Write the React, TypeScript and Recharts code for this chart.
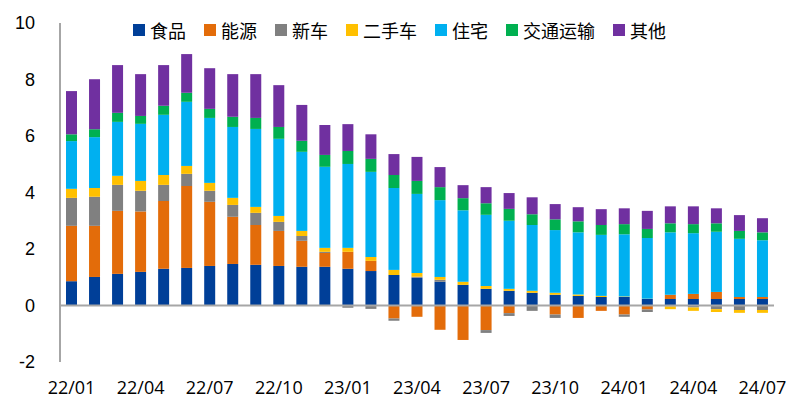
import React from 'react';
import {
  BarChart,
  Bar,
  XAxis,
  YAxis,
  Legend,
  ReferenceLine,
} from 'recharts';

const months = [
  '22/01', '22/02', '22/03', '22/04', '22/05', '22/06', '22/07', '22/08', '22/09', '22/10', '22/11', '22/12',
  '23/01', '23/02', '23/03', '23/04', '23/05', '23/06', '23/07', '23/08', '23/09', '23/10', '23/11', '23/12',
  '24/01', '24/02', '24/03', '24/04', '24/05', '24/06', '24/07',
];

const food = [0.86, 1.01, 1.12, 1.19, 1.3, 1.33, 1.4, 1.47, 1.44, 1.4, 1.37, 1.37, 1.3, 1.22, 1.08, 0.98, 0.84, 0.73, 0.59, 0.52, 0.45, 0.38, 0.34, 0.3, 0.3, 0.23, 0.23, 0.23, 0.23, 0.23, 0.23];
const energy = [1.96, 1.81, 2.23, 2.14, 2.4, 2.9, 2.27, 1.67, 1.41, 1.24, 0.92, 0.49, 0.6, 0.36, -0.46, -0.4, -0.86, -1.22, -0.87, -0.27, 0, -0.32, -0.44, -0.19, -0.32, -0.14, 0.15, 0.18, 0.25, 0.07, 0.07];
const newCar = [0.99, 1.03, 0.92, 0.73, 0.57, 0.43, 0.39, 0.42, 0.43, 0.32, 0.17, 0.04, -0.08, -0.12, -0.08, 0.04, 0.07, 0, -0.1, -0.1, -0.19, -0.12, 0, 0, -0.08, -0.09, -0.03, -0.07, -0.13, -0.16, -0.16];
const usedCar = [0.32, 0.31, 0.32, 0.35, 0.35, 0.28, 0.28, 0.25, 0.21, 0.21, 0.18, 0.14, 0.14, 0.14, 0.18, 0.13, 0.1, 0.11, 0.1, 0.07, 0.07, 0.07, 0.05, 0.04, 0.02, 0.01, -0.1, -0.12, -0.1, -0.1, -0.1];
const housing = [1.69, 1.8, 1.91, 2.02, 2.13, 2.27, 2.3, 2.51, 2.76, 2.73, 2.8, 2.87, 2.97, 3.01, 2.9, 2.8, 2.72, 2.53, 2.52, 2.41, 2.33, 2.22, 2.2, 2.16, 2.2, 2.15, 2.21, 2.15, 2.13, 2.06, 2.01];
const transport = [0.24, 0.28, 0.32, 0.28, 0.32, 0.32, 0.32, 0.36, 0.39, 0.42, 0.39, 0.42, 0.46, 0.46, 0.46, 0.46, 0.46, 0.43, 0.41, 0.42, 0.38, 0.38, 0.39, 0.35, 0.36, 0.32, 0.32, 0.32, 0.3, 0.28, 0.28];
const other = [1.53, 1.77, 1.69, 1.48, 1.44, 1.37, 1.44, 1.51, 1.55, 1.48, 1.27, 1.06, 0.95, 0.87, 0.74, 0.85, 0.71, 0.46, 0.57, 0.56, 0.6, 0.54, 0.5, 0.56, 0.56, 0.64, 0.6, 0.63, 0.53, 0.56, 0.5];

const yTicks = [-2, 0, 2, 4, 6, 8, 10];

const series = [
  { key: 'food', name: '食品', color: '#003F98', values: food },
  { key: 'energy', name: '能源', color: '#E36C0A', values: energy },
  { key: 'newCar', name: '新车', color: '#808080', values: newCar },
  { key: 'usedCar', name: '二手车', color: '#FFC000', values: usedCar },
  { key: 'housing', name: '住宅', color: '#00B0F0', values: housing },
  { key: 'transport', name: '交通运输', color: '#00B050', values: transport },
  { key: 'other', name: '其他', color: '#7030A0', values: other },
];

const data = months.map((m, i) => {
  const row: Record<string, string | number> = { month: m };
  series.forEach(s => {
    row[s.key] = s.values[i];
  });
  return row;
});

const renderLegend = () => (
  <div style={{ display: 'flex', alignItems: 'center', fontFamily: '"Noto Sans CJK SC", sans-serif', fontSize: 18, color: '#000' }}>
    {series.map(s => (
      <div key={s.key} style={{ display: 'flex', alignItems: 'center', marginRight: 18 }}>
        <span style={{ display: 'inline-block', width: 12, height: 12, background: s.color, marginRight: 5 }} />
        <span style={{ lineHeight: '20px' }}>{s.name}</span>
      </div>
    ))}
  </div>
);

export default function App() {
  return (
    <BarChart
      width={781}
      height={405}
      data={data}
      stackOffset="sign"
      margin={{ top: 15, right: 15, bottom: 0, left: 0 }}
      barSize={11}
    >
      <XAxis
        dataKey="month"
        interval={2}
        axisLine={false}
        tickLine={false}
        tickMargin={13}
        height={51}
        tick={{ fontSize: 18, fill: '#000', fontFamily: '"Open Sans", sans-serif' }}
      />
      <YAxis
        domain={[-2, 10]}
        ticks={yTicks}
        width={52}
        axisLine={{ stroke: '#A6A6A6', strokeWidth: 2 }}
        tickLine={false}
        tickMargin={19}
        tick={{ fontSize: 18, fill: '#000', fontFamily: '"Liberation Sans", Arial, sans-serif' }}
      />
      <Legend
        verticalAlign="middle"
        layout="horizontal"
        content={renderLegend}
        wrapperStyle={{ top: 12, left: 125, width: 'auto' }}
      />
      {series.map(s => (
        <Bar
          key={s.key}
          dataKey={s.key}
          name={s.name}
          stackId="a"
          fill={s.color}
          isAnimationActive={false}
        />
      ))}
      <ReferenceLine y={0} stroke="#A6A6A6" strokeWidth={2} />
    </BarChart>
  );
}
